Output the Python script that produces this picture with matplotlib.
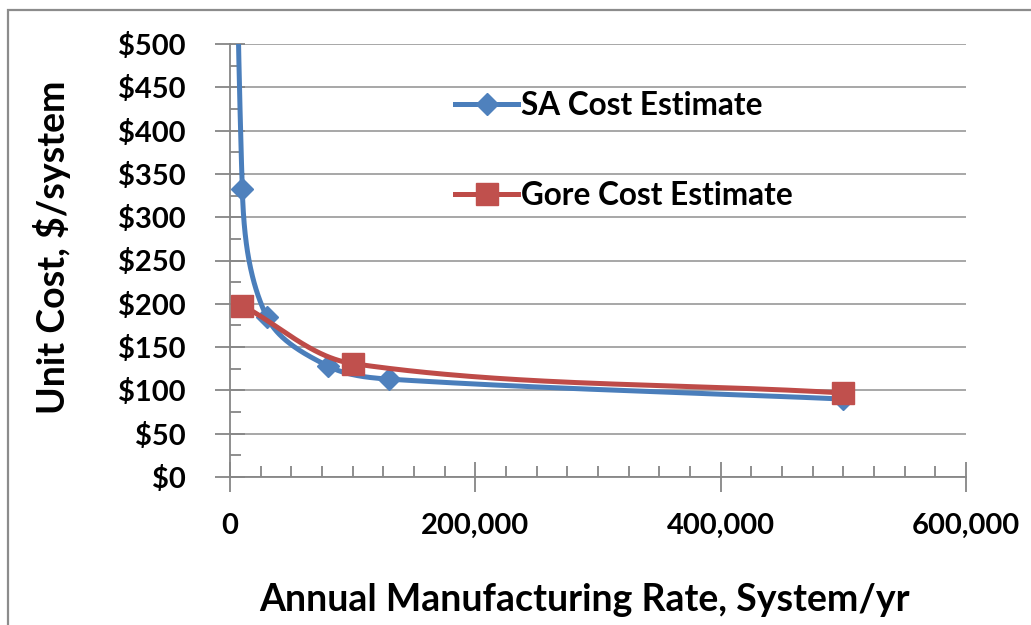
import numpy as np
import matplotlib
matplotlib.use("Agg")
import matplotlib.pyplot as plt
from matplotlib.ticker import FuncFormatter, MultipleLocator
from matplotlib.patches import Rectangle
from matplotlib.lines import Line2D

# data (first SA point sits above the $500 limit)
sa_rate = [1000, 10000, 30000, 80000, 130000, 500000]
sa_cost = [1500, 333, 185, 128, 113, 90]
gore_rate = [10000, 100000, 500000]
gore_cost = [198, 131, 97]

SA_BLUE = "#4A7EBB"
SA_MARK = "#4F81BD"
GORE_RED = "#BE4B48"
GORE_MARK = "#C0504D"
AXIS_GRAY = "#868686"

plt.rcParams['font.family'] = ['Lato', 'DejaVu Sans']
plt.rcParams['font.weight'] = 'bold'


def smooth(ax, xs, ys, n=80):
    # Excel-style smoothed line: bezier through the points, built in display space,
    # tangent follows the neighbours, handle length tied to the segment length
    pts = ax.transData.transform(np.column_stack([xs, ys]))
    ext = np.vstack([pts[0], pts, pts[-1]])
    t = np.linspace(0, 1, n)[:, None]

    def unit(v):
        d = np.hypot(*v)
        return v / d if d > 0 else v

    segs = []
    for i in range(len(pts) - 1):
        p0, p1 = ext[i + 1], ext[i + 2]
        seg = np.hypot(*(p1 - p0))
        c1 = p0 + unit(ext[i + 2] - ext[i]) * seg / 3
        c2 = p1 - unit(ext[i + 3] - ext[i + 1]) * seg / 3
        segs.append((1 - t) ** 3 * p0 + 3 * (1 - t) ** 2 * t * c1
                    + 3 * (1 - t) * t ** 2 * c2 + t ** 3 * p1)
    curve = ax.transData.inverted().transform(np.vstack(segs))
    return curve[:, 0], curve[:, 1]


W, H = 1031, 625
fig = plt.figure(figsize=(W / 100, H / 100), dpi=100)
ax = fig.add_axes([230 / W, 1 - 477 / H, 736 / W, 433 / H])

ax.set_xlim(0, 600000)
ax.set_ylim(0, 500)

# outer chart border
fig.patches.append(Rectangle((8 / W, -0.2), 1.5, 1.2 - 10 / H, transform=fig.transFigure,
                             fill=False, edgecolor="#8C8C8C", lw=1.6))

# gridlines / axes
ax.yaxis.set_major_locator(MultipleLocator(50))
ax.yaxis.set_minor_locator(MultipleLocator(25))
ax.xaxis.set_major_locator(MultipleLocator(200000))
ax.xaxis.set_minor_locator(MultipleLocator(25000))
ax.grid(axis='y', which='major', color="#A0A0A0", lw=1.3)
ax.set_axisbelow(True)
for s in ['top', 'right']:
    ax.spines[s].set_visible(False)
for s in ['left', 'bottom']:
    ax.spines[s].set_color(AXIS_GRAY)
    ax.spines[s].set_linewidth(1.3)

ax.tick_params(which='major', direction='inout', length=22, width=1.3, color=AXIS_GRAY,
               labelsize=21, labelcolor='black')
ax.tick_params(which='minor', direction='in', length=8, width=1.3, color=AXIS_GRAY)
ax.tick_params(axis='y', which='major', pad=21)
ax.tick_params(axis='x', which='major', pad=15)
ax.yaxis.set_major_formatter(FuncFormatter(lambda v, p: f"${v:,.0f}"))
ax.xaxis.set_major_formatter(FuncFormatter(lambda v, p: f"{v:,.0f}"))

# series
sx, sy = smooth(ax, sa_rate, sa_cost)
ax.plot(sx, sy, color=SA_BLUE, lw=3.6, solid_capstyle='round', zorder=3)
ax.plot(sa_rate, sa_cost, ls='none', marker='D', ms=11.5, color=SA_MARK, zorder=4)

gx, gy = smooth(ax, gore_rate, gore_cost)
ax.plot(gx, gy, color=GORE_RED, lw=3.6, solid_capstyle='round', zorder=5)
ax.plot(gore_rate, gore_cost, ls='none', marker='s', ms=15.5, color=GORE_MARK, zorder=6)

ax.set_xlabel("Annual Manufacturing Rate, System/yr", fontsize=27, fontweight='bold')
ax.xaxis.set_label_coords(585 / W, 1 - 600 / H, transform=fig.transFigure)
ax.set_ylabel("Unit Cost, $/system", fontsize=27, fontweight='bold')
ax.yaxis.set_label_coords(52 / W, 1 - 247 / H, transform=fig.transFigure)
ax.xaxis.label.set_va('center')
ax.yaxis.label.set_va('center')

handles = [
    Line2D([], [], color=SA_BLUE, lw=3.6, marker='D', ms=11.5, markerfacecolor=SA_MARK,
           markeredgecolor=SA_MARK),
    Line2D([], [], color=GORE_RED, lw=3.6, marker='s', ms=15.5, markerfacecolor=GORE_MARK,
           markeredgecolor=GORE_MARK),
]
leg = ax.legend(handles, ["SA Cost Estimate", "Gore Cost Estimate"], loc='upper left',
                bbox_to_anchor=(455 / W, 1 - 91 / H), bbox_transform=fig.transFigure,
                frameon=False, fontsize=22.7, borderpad=0, borderaxespad=0,
                handlelength=2.0, handletextpad=0.1, labelspacing=1.95, markerscale=1)

fig.savefig("out.png", dpi=100, facecolor='white')
